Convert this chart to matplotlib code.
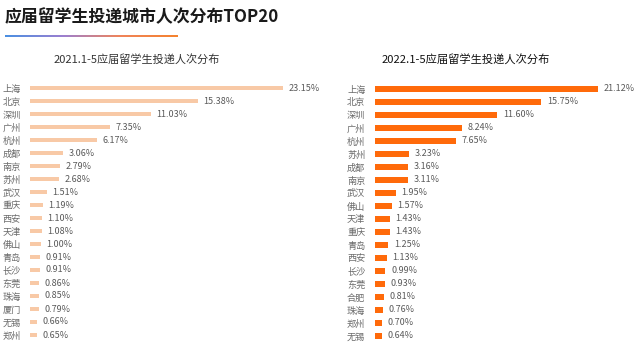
import matplotlib
matplotlib.use("Agg")
import matplotlib.pyplot as plt
import numpy as np
from matplotlib.colors import LinearSegmentedColormap

plt.rcParams['font.family'] = ['Noto Sans CJK SC', 'DejaVu Sans']

title = "应届留学生投递城市人次分布TOP20"
sub_2021 = "2021.1-5应届留学生投递人次分布"
sub_2022 = "2022.1-5应届留学生投递人次分布"

cities_2021 = ["上海", "北京", "深圳", "广州", "杭州", "成都", "南京", "苏州", "武汉", "重庆",
               "西安", "天津", "佛山", "青岛", "长沙", "东莞", "珠海", "厦门", "无锡", "郑州"]
values_2021 = [23.15, 15.38, 11.03, 7.35, 6.17, 3.06, 2.79, 2.68, 1.51, 1.19,
               1.10, 1.08, 1.00, 0.91, 0.91, 0.86, 0.85, 0.79, 0.66, 0.65]

cities_2022 = ["上海", "北京", "深圳", "广州", "杭州", "苏州", "成都", "南京", "武汉", "佛山",
               "天津", "重庆", "青岛", "西安", "长沙", "东莞", "合肥", "珠海", "郑州", "无锡"]
values_2022 = [21.12, 15.75, 11.60, 8.24, 7.65, 3.23, 3.16, 3.11, 1.95, 1.57,
               1.43, 1.43, 1.25, 1.13, 0.99, 0.93, 0.81, 0.76, 0.70, 0.64]

W, H = 636, 346
fig = plt.figure(figsize=(W / 100, H / 100), dpi=100)
fig.patch.set_facecolor("white")

def px_axes(x0, y0_top, w, h):
    return fig.add_axes([x0 / W, 1 - (y0_top + h) / H, w / W, h / H])

# Title
fig.text(5 / W, 1 - 17 / H, title, fontsize=12.2, fontweight="bold", color="#1a1a1a",
         ha="left", va="center")

# gradient underline
gax = px_axes(5, 35, 173, 2)
cmap = LinearSegmentedColormap.from_list("g", ["#4a90e2", "#9b7fd0", "#f0845a", "#f5822e"])
gax.imshow(np.linspace(0, 1, 256)[None, :], aspect="auto", cmap=cmap, extent=[0, 1, 0, 1])
gax.axis("off")

fig.text(137 / W, 1 - 59 / H, sub_2021, fontsize=8, color="#333333", ha="center", va="center")
fig.text(466 / W, 1 - 60 / H, sub_2022, fontsize=8.1, color="#111111", ha="center", va="center",
         fontweight="medium")

def draw(ax, cats, vals, color, px_per_unit, width_px, bar_h, pad):
    n = len(cats)
    y = np.arange(n)
    ax.barh(y, vals, height=bar_h, color=color, edgecolor="none")
    ax.set_ylim(n - 0.5, -0.5)
    ax.set_xlim(0, width_px / px_per_unit)
    ax.set_yticks(y)
    ax.set_yticklabels(cats, fontsize=6.6, color="#6a6a6a")
    ax.tick_params(axis="y", length=0, pad=pad)
    ax.set_xticks([])
    for s in ax.spines.values():
        s.set_visible(False)
    for yi, v in zip(y, vals):
        ax.annotate(f"{v:.2f}%", (v, yi), xytext=(4, 0), textcoords="offset points",
                    ha="left", va="center", fontsize=6.5, color="#5a5a5a")

ax1 = px_axes(30, 81.5, 290, 260)
draw(ax1, cities_2021, values_2021, "#f8c9a6", 10.93, 290, 0.34, 6.5)

ax2 = px_axes(375, 82.5, 261, 260)
draw(ax2, cities_2022, values_2022, "#ff6a0a", 10.56, 261, 0.42, 7)

fig.savefig("out.png", dpi=100)
